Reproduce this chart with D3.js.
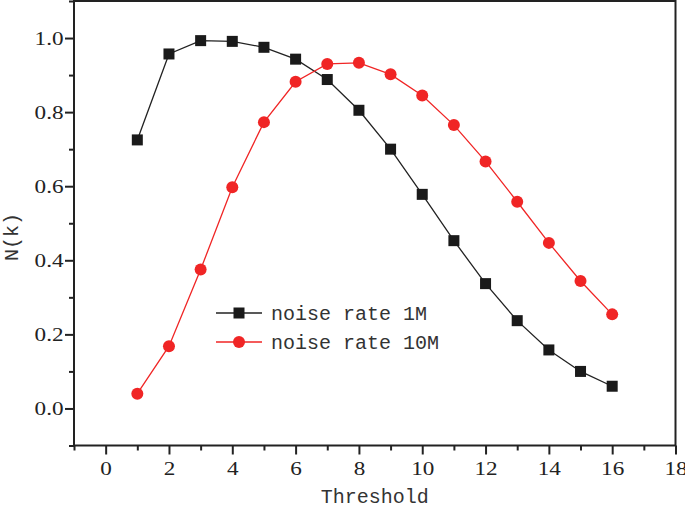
<!DOCTYPE html>
<meta charset="utf-8">
<script src="https://cdn.jsdelivr.net/npm/d3@7"></script>
<style>
body { margin: 0; background: #fff; }
.tick text { font-family: "Liberation Serif", "Times New Roman", serif; font-size: 19px; fill: #222; }
.tick line, .domain { stroke: #222; }
.title { font-family: "Liberation Mono", monospace; font-size: 20px; fill: #333; }
</style>
<body>
<script>

// data
var thresholds = [1, 2, 3, 4, 5, 6, 7, 8, 9, 10, 11, 12, 13, 14, 15, 16];
var rate1M  = [0.725, 0.957, 0.993, 0.991, 0.975, 0.943, 0.888, 0.805, 0.700, 0.578, 0.453, 0.337, 0.237, 0.158, 0.100, 0.060];
var rate10M = [0.040, 0.168, 0.375, 0.597, 0.773, 0.882, 0.930, 0.933, 0.902, 0.845, 0.765, 0.667, 0.558, 0.447, 0.344, 0.254];
var xTicks = [0, 2, 4, 6, 8, 10, 12, 14, 16, 18];
var yTicks = [0.0, 0.2, 0.4, 0.6, 0.8, 1.0];
var seriesNames = ["noise rate 1M", "noise rate 10M"];

var width = 685, height = 511;
var mLeft = 74, mRight = 675.5, mTop = 1, mBottom = 445.5;

var svg = d3.select("body").append("svg")
    .attr("width", width)
    .attr("height", height);

var x = d3.scaleLinear().domain([-1, 18]).range([mLeft, mRight]);
var y = d3.scaleLinear().domain([-0.1, 1.1]).range([mBottom, mTop]);

// minor ticks
var xMinor = d3.range(-1, 18, 1).filter(function(v) { return v % 2 !== 0; });
var yMinor = d3.range(-0.1, 1.1, 0.2).map(function(v) { return +v.toFixed(1); });

svg.append("g")
    .attr("transform", "translate(0," + mBottom + ")")
    .call(d3.axisBottom(x).tickValues(xMinor).tickSize(5).tickFormat(""))
    .call(function(g) { g.select(".domain").remove(); })
    .selectAll("line").attr("stroke-width", 2);

svg.append("g")
    .attr("transform", "translate(" + mLeft + ",0)")
    .call(d3.axisLeft(y).tickValues(yMinor).tickSize(5).tickFormat(""))
    .call(function(g) { g.select(".domain").remove(); })
    .selectAll("line").attr("stroke-width", 2);

// the printed digits are a bit wider than plain Times
var stretch = 1.22;

var xAxis = svg.append("g")
    .attr("transform", "translate(0," + mBottom + ")")
    .call(d3.axisBottom(x).tickValues(xTicks).tickSize(9).tickPadding(7).tickFormat(d3.format("d")));
xAxis.select(".domain").remove();
xAxis.selectAll("line").attr("stroke-width", 2);
xAxis.selectAll("text").attr("transform", "scale(" + stretch + ",1)");

var yAxis = svg.append("g")
    .attr("transform", "translate(" + mLeft + ",0)")
    .call(d3.axisLeft(y).tickValues(yTicks).tickSize(9).tickFormat(d3.format(".1f")));
yAxis.select(".domain").remove();
yAxis.selectAll("line").attr("stroke-width", 2);
yAxis.selectAll("text")
    .attr("x", -10.5 / stretch)
    .attr("transform", "scale(" + stretch + ",1)");

// frame
svg.append("rect")
    .attr("x", mLeft).attr("y", mTop)
    .attr("width", mRight - mLeft).attr("height", mBottom - mTop)
    .attr("fill", "none")
    .attr("stroke", "#222")
    .attr("stroke-width", 2);

var line = d3.line()
    .x(function(d, i) { return x(thresholds[i]); })
    .y(function(d) { return y(d); });

var black = "#1a1a1a", red = "#f02525";

svg.append("path").datum(rate1M)
    .attr("d", line).attr("fill", "none")
    .attr("stroke", "#222").attr("stroke-width", 1.3);
svg.append("path").datum(rate10M)
    .attr("d", line).attr("fill", "none")
    .attr("stroke", red).attr("stroke-width", 1.3);

svg.append("g").selectAll("rect")
    .data(rate1M).enter().append("rect")
    .attr("x", function(d, i) { return x(thresholds[i]) - 5.5; })
    .attr("y", function(d) { return y(d) - 5.5; })
    .attr("width", 11).attr("height", 11)
    .attr("fill", black);

svg.append("g").selectAll("circle")
    .data(rate10M).enter().append("circle")
    .attr("cx", function(d, i) { return x(thresholds[i]); })
    .attr("cy", function(d) { return y(d); })
    .attr("r", 6)
    .attr("fill", red);

// legend
var lg = svg.append("g").attr("transform", "translate(216,313)");
lg.append("line").attr("x1", 0).attr("x2", 46).attr("y1", 0).attr("y2", 0)
    .attr("stroke", "#222").attr("stroke-width", 1.3);
lg.append("rect").attr("x", 23 - 5.5).attr("y", -5.5).attr("width", 11).attr("height", 11).attr("fill", black);
lg.append("text").attr("class", "title").attr("x", 55).attr("y", 7).text(seriesNames[0]);
lg.append("line").attr("x1", 0).attr("x2", 46).attr("y1", 29).attr("y2", 29)
    .attr("stroke", red).attr("stroke-width", 1.3);
lg.append("circle").attr("cx", 23).attr("cy", 29).attr("r", 6).attr("fill", red);
lg.append("text").attr("class", "title").attr("x", 55).attr("y", 36).text(seriesNames[1]);

// axis titles
svg.append("text").attr("class", "title")
    .attr("x", (mLeft + mRight) / 2).attr("y", 503)
    .attr("text-anchor", "middle")
    .text("Threshold");

svg.append("text").attr("class", "title")
    .attr("transform", "translate(18,237) rotate(-90)")
    .attr("text-anchor", "middle")
    .text("N(k)");

</script>
</body>
</html>
